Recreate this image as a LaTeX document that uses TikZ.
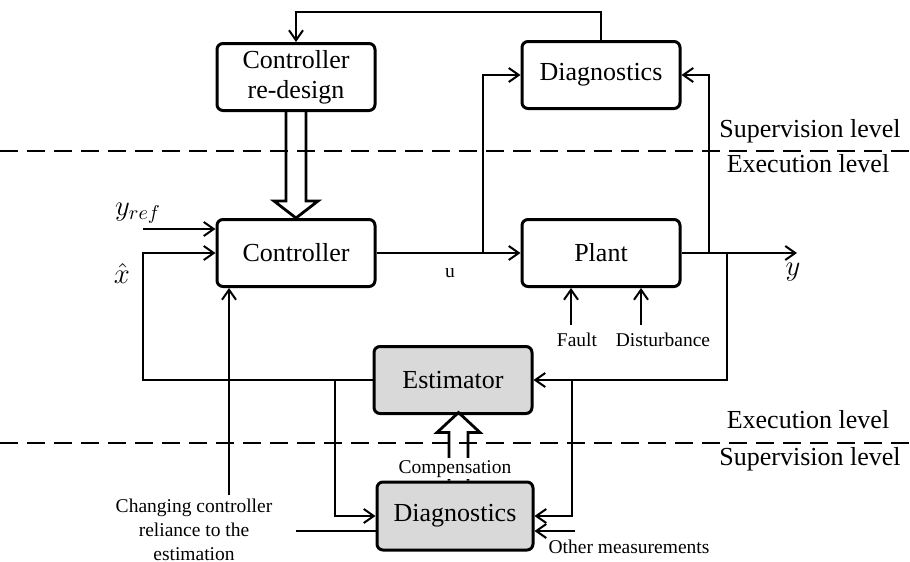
\documentclass[tikz,border=0pt]{standalone}
\usepackage{fontspec}
\setmainfont{Liberation Serif}
\usetikzlibrary{arrows.meta,calc}
\definecolor{boxgray}{HTML}{D9D9D9}
\begin{document}
\begin{tikzpicture}[x=0.5pt,y=-0.5pt,
  blk/.style={draw, line width=1.5pt, rounded corners=3pt, minimum width=79pt, minimum height=33.5pt,
    font=\fontsize{13}{15}\selectfont, align=center, inner sep=0pt},
  gblk/.style={blk, fill=boxgray},
  con/.style={line width=1pt},
  arr/.style={con, -{Straight Barb[length=5pt,width=7pt,line width=1pt]}},
  lbl/.style={font=\fontsize{9.75}{12}\selectfont, inner sep=0pt, align=center},
  lvl/.style={font=\fontsize{13}{15}\selectfont, inner sep=0pt, anchor=base},
  mlbl/.style={font=\fontsize{14}{16}\selectfont, inner sep=0pt},
  divider/.style={line width=1.1pt, dash pattern=on 9pt off 4.5pt},
  hollow/.style={line width=1.4pt, line join=miter}
]
\useasboundingbox (0,0) rectangle (910,562);

% blocks
\node[blk]  (crd) at (296,77)  {Controller\\re-design};
\node[blk]  (dgt) at (601,75)  {Diagnostics};
\node[blk]  (ctl) at (296,253) {Controller};
\node[blk]  (plt) at (601,253) {Plant};
\node[gblk] (est) at (453,380) {Estimator};
\node[gblk, minimum width=78pt, minimum height=34pt] (dgb) at (455,516) {Diagnostics};

% helper coordinates
\coordinate (top)   at (450,12);
\coordinate (yr)    at (143,229);
\coordinate (xh)    at (143,253);
\coordinate (ju)    at (483,253);
\coordinate (jd)    at (709,253);
\coordinate (je)    at (727,253);
\coordinate (yout)  at (797,253);
\coordinate (jr)    at (572,380);
\coordinate (jl)    at (335,380);
\coordinate (om)    at (575,531);
\coordinate (chgtop) at (229,495);
\coordinate (chgr)  at (296,531);
\coordinate (flt)   at (571,325);
\coordinate (dst)   at (641,325);

% top feedback
\draw[arr] (dgt.north) |- (top) -| (crd.north);

% hollow arrow controller re-design -> controller
\draw[hollow] ($(crd.south)+(-10,0)$) -- ($(crd.south)+(-10,89)$) -- ($(crd.south)+(-22,89)$)
  -- (ctl.north) -- ($(crd.south)+(22,89)$) -- ($(crd.south)+(10,89)$) -- ($(crd.south)+(10,0)$);

% inputs to controller
\draw[arr] (yr) -- (ctl.west |- yr);
\draw[arr] (est.west) -| (xh) -- (ctl.west);
\node[mlbl] at (138,213) {$y_{ref}$};
\node[mlbl] at (122,273) {$\hat{x}$};

% controller -> plant
\draw[arr] (ctl.east) -- (plt.west);
\node[lbl] at (450,273) {u};
\draw[arr] (ju) |- (dgt.west);

% plant output
\draw[arr] (plt.east) -- (yout);
\node[mlbl] at (793,272) {$y$};
\draw[arr] (jd) |- (dgt.east);
\draw[arr] (je) |- (est.east);

% fault / disturbance
\draw[arr] (flt) -- (flt |- plt.south);
\draw[arr] (dst) -- (dst |- plt.south);
\node[lbl, anchor=base] at (577,346) {Fault};
\node[lbl, anchor=base] at (663,346) {Disturbance};

% estimator -> diagnostics branches
\draw[arr] (jl) |- (dgb.west);
\draw[arr] (jr) |- (dgb.east);
\draw[arr] (om) -- ($(dgb.east)+(0,15)$);
\node[lbl, anchor=base] at (629,553) {Other measurements};

% changing controller reliance
\node[lbl] (chg) at (194,530) {Changing controller\\reliance to the\\estimation};
\draw[con] ($(dgb.west)+(0,15)$) -- (chgr);
\draw[arr] (chgtop) -- (chgtop |- ctl.south);

% compensation hollow arrow
\draw[hollow] ($(dgb.north)+(-6,0)$) -- ($(dgb.north)+(-6,-48)$) -- ($(dgb.north)+(-18,-48)$)
  -- ($(dgb.north)+(3.5,-68)$) -- ($(dgb.north)+(25,-48)$) -- ($(dgb.north)+(13,-48)$) -- ($(dgb.north)+(13,0)$);
\node[lbl, fill=white, inner ysep=1pt, anchor=base] at (455,473) {Compensation};

% level dividers
\draw[divider] (0,151) -- (910,151);
\draw[divider] (0,443) -- (910,443);
\node[lvl] at (810,137) {Supervision level};
\node[lvl] at (808,172) {Execution level};
\node[lvl] at (808,428) {Execution level};
\node[lvl] at (810,465) {Supervision level};
\end{tikzpicture}
\end{document}
